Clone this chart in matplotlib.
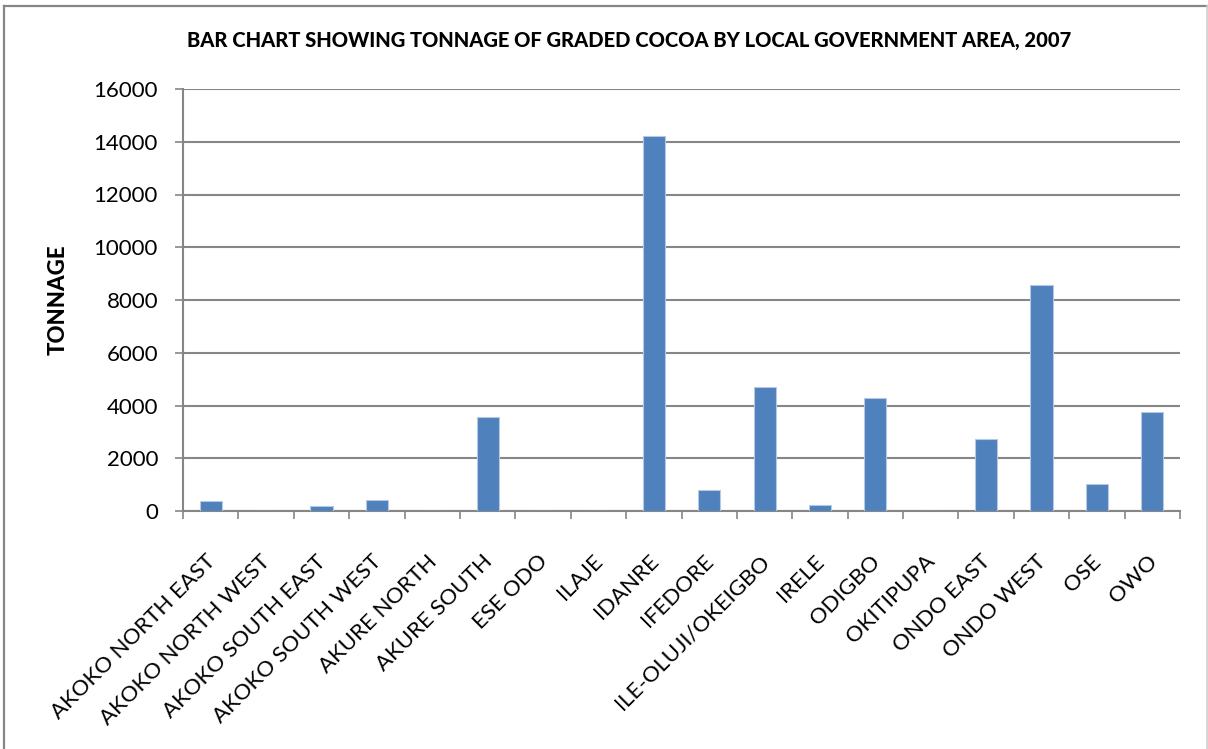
import matplotlib
matplotlib.use("Agg")
import matplotlib.pyplot as plt
from matplotlib.lines import Line2D
from matplotlib.transforms import ScaledTranslation
import numpy as np

plt.rcParams["font.family"] = ["Lato", "DejaVu Sans"]

areas = [
    "AKOKO NORTH EAST", "AKOKO NORTH WEST", "AKOKO SOUTH EAST", "AKOKO SOUTH WEST",
    "AKURE NORTH", "AKURE SOUTH", "ESE ODO", "ILAJE", "IDANRE", "IFEDORE",
    "ILE-OLUJI/OKEIGBO", "IRELE", "ODIGBO", "OKITIPUPA", "ONDO EAST",
    "ONDO WEST", "OSE", "OWO",
]
tonnage = [
    390, 0, 190, 430, 0, 3560, 0, 0, 14200, 800,
    4700, 220, 4300, 0, 2720, 8550, 1040, 3740,
]
y_ticks = [0, 2000, 4000, 6000, 8000, 10000, 12000, 14000, 16000]

grid = "#868686"
bar_color = "#4F81BD"

fig = plt.figure(figsize=(12.08, 7.49), dpi=100, facecolor="white")
ax = fig.add_axes([183 / 1208, 1 - 511 / 749, (1180 - 183) / 1208, (511 - 89) / 749])

x = np.arange(len(areas))
ax.bar(x, tonnage, width=0.4, color=bar_color, edgecolor="#B7C9E2", linewidth=0.8, zorder=3)

ax.set_xlim(-0.5, len(areas) - 0.5)
ax.set_ylim(0, 16000)
ax.set_yticks(y_ticks)
ax.set_yticklabels([str(v) for v in y_ticks], fontsize=16)
ax.yaxis.grid(True, color=grid, linewidth=1.5, zorder=0)
ax.tick_params(axis="y", length=6, width=1.2, color=grid, pad=12)

# category boundaries carry the tick marks, names sit in between
ax.set_xticks(np.arange(len(areas) + 1) - 0.5)
ax.set_xticklabels([])
ax.tick_params(axis="x", length=6, width=1.2, color=grid)
ax.set_xticks(x, minor=True)
ax.set_xticklabels(areas, minor=True, fontsize=16, rotation=45,
                   ha="right", va="center", rotation_mode="anchor")
ax.tick_params(axis="x", which="minor", length=0, pad=0)
shift = ScaledTranslation(1 / 72, -34 / 72, fig.dpi_scale_trans)
for lab in ax.get_xticklabels(minor=True):
    lab.set_transform(lab.get_transform() + shift)

for side in ("top", "right"):
    ax.spines[side].set_visible(False)
for side in ("left", "bottom"):
    ax.spines[side].set_color(grid)
    ax.spines[side].set_linewidth(1.5)

fig.text(58 / 1208, 1 - 300 / 749, "TONNAGE", rotation=90, ha="center", va="center",
         fontsize=16, fontweight="black")
fig.text(629 / 1208, 1 - 40 / 749,
         "BAR CHART SHOWING TONNAGE OF GRADED COCOA BY LOCAL GOVERNMENT AREA, 2007",
         ha="center", va="center", fontsize=14.5, fontweight="black")

# outer chart frame
fig.add_artist(Line2D([4 / 1208, 1207 / 1208], [1 - 6 / 749, 1 - 6 / 749],
                      transform=fig.transFigure, color=grid, lw=1.6))
fig.add_artist(Line2D([4 / 1208, 4 / 1208], [0, 1 - 6 / 749],
                      transform=fig.transFigure, color=grid, lw=1.6))
fig.add_artist(Line2D([1207 / 1208, 1207 / 1208], [0, 1 - 6 / 749],
                      transform=fig.transFigure, color="#d0d0d0", lw=1.2))

fig.savefig("out.png", dpi=100, facecolor="white")
plt.close(fig)
